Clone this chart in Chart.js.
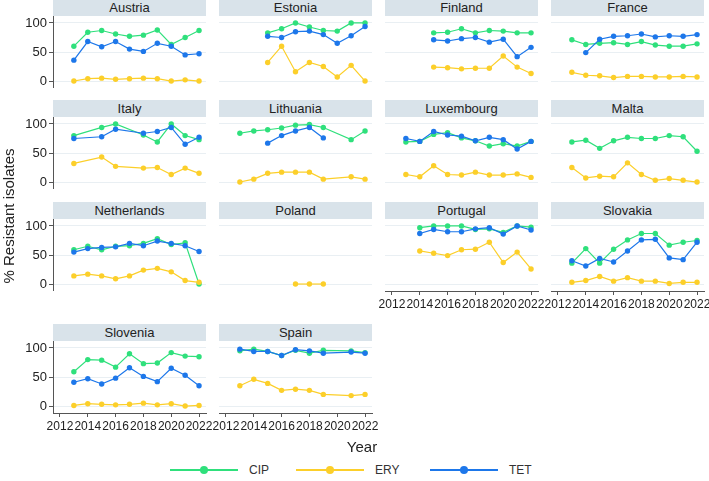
<!DOCTYPE html>
<html>
<head>
<meta charset="utf-8">
<script src="https://cdn.jsdelivr.net/npm/chart.js@4.4.0/dist/chart.umd.min.js"></script>
<style>
  html,body{margin:0;padding:0;background:#fff;}
  body{width:709px;height:481px;overflow:hidden;position:relative;font-family:"Liberation Sans",Arial,sans-serif;color:#222;}
  .strip{position:absolute;background:#d9e3ea;color:#222;font-size:13px;text-align:center;height:17px;line-height:17px;}
  canvas{position:absolute;}
  .ytitle{position:absolute;width:220px;height:18px;line-height:18px;font-size:15px;text-align:center;transform:rotate(-90deg);white-space:nowrap;color:#222;}
  .xtitle{position:absolute;width:100px;height:18px;line-height:18px;font-size:15px;text-align:center;color:#222;}
  .lg-line{position:absolute;height:2px;}
  .lg-dot{position:absolute;width:8px;height:8px;border-radius:50%;}
  .lg-text{position:absolute;font-size:12px;line-height:14px;color:#333;}
</style>
</head>
<body>
<script>
// ---------------- DATA ----------------
const years = [2013, 2014, 2015, 2016, 2017, 2018, 2019, 2020, 2021, 2022];
const xTickLabels = [2012, 2014, 2016, 2018, 2020, 2022];
const yTickValues = [0, 50, 100];
const countries = ['Austria','Estonia','Finland','France','Italy','Lithuania','Luxembourg','Malta','Netherlands','Poland','Portugal','Slovakia','Slovenia','Spain'];
const drugs = ['CIP', 'ERY', 'TET'];

const austriaCIP = [60, 84, 87, 81, 77, 79, 88, 63, 75, 87];
const austriaERY = [0, 4, 5, 3, 4, 5, 4, 0, 2, 0];
const austriaTET = [36, 68, 59, 68, 55, 51, 65, 60, 45, 47];

const estoniaCIP = [null, null, 83, 90, 100, 93, 87, 86, 100, 100];
const estoniaERY = [null, null, 32, 60, 16, 32, 25, 7, 27, 0];
const estoniaTET = [null, null, 77, 75, 85, 86, 80, 65, 78, 94];

const finlandCIP = [null, null, 83, 84, 90, 83, 87, 86, 83, 83];
const finlandERY = [null, null, 24, 23, 21, 22, 22, 43, 24, 13];
const finlandTET = [null, null, 71, 69, 73, 75, 67, 72, 42, 58];

const franceCIP = [71, 63, 65, 66, 63, 68, 62, 60, 60, 64];
const franceERY = [15, 10, 9, 6, 8, 8, 7, 7, 8, 7];
const franceTET = [null, 49, 72, 77, 78, 81, 76, 78, 77, 80];

const italyCIP = [80, null, 94, 100, null, 81, 69, 100, 80, 73];
const italyERY = [32, null, 43, 27, null, 24, 25, 13, 24, 15];
const italyTET = [75, null, 78, 91, null, 84, 87, 94, 65, 77];

const lithuaniaCIP = [84, 88, 90, 93, 98, 99, 94, null, 73, 88];
const lithuaniaERY = [0, 5, 15, 17, 17, 17, 5, null, 9, 5];
const lithuaniaTET = [null, null, 67, 80, 88, 94, 76, null, null, null];

const luxembourgCIP = [69, 70, 82, 85, 76, 71, 62, 66, 62, 70];
const luxembourgERY = [13, 9, 28, 13, 12, 17, 12, 12, 14, 8];
const luxembourgTET = [75, 70, 87, 81, 79, 71, 77, 73, 57, 70];

const maltaCIP = [69, 72, 58, 71, 77, 75, 75, 80, 78, 53];
const maltaERY = [25, 7, 10, 9, 33, 13, 3, 6, 3, 0];
const maltaTET = [null, null, null, null, null, null, null, null, null, null];

const netherlandsCIP = [59, 65, 59, 65, 66, 70, 78, 68, 71, 0];
const netherlandsERY = [14, 17, 14, 9, 14, 24, 27, 21, 6, 3];
const netherlandsTET = [55, 61, 63, 64, 70, 66, 74, 70, 66, 56];

const polandCIP = [null, null, null, null, null, null, null, null, null, null];
const polandERY = [null, null, null, null, 0, 0, 0, null, null, null];
const polandTET = [null, null, null, null, null, null, null, null, null, null];

const portugalCIP = [null, 97, 100, 100, 100, 94, 95, 89, 100, 98];
const portugalERY = [null, 57, 53, 49, 59, 60, 72, 37, 55, 26];
const portugalTET = [null, 87, 94, 90, 90, 95, 97, 86, 100, 93];

const slovakiaCIP = [36, 61, 36, 60, 76, 87, 87, 67, 72, 75];
const slovakiaERY = [3, 6, 13, 5, 11, 5, 5, 1, 3, 3];
const slovakiaTET = [40, 31, 44, 38, 57, 76, 77, 45, 42, 72];

const sloveniaCIP = [59, 80, 79, 67, 90, 73, 74, 92, 86, 85];
const sloveniaERY = [1, 4, 3, 2, 3, 5, 2, 4, 0, 1];
const sloveniaTET = [41, 47, 38, 48, 66, 51, 42, 65, 53, 35];

const spainCIP = [95, 98, 94, 87, 96, 91, 96, null, 95, 92];
const spainERY = [35, 46, 39, 27, 29, 27, 20, null, 18, 20];
const spainTET = [98, 94, 94, 87, 97, 95, 91, null, 93, 91];

// ---------------- STYLE / LAYOUT ----------------
const drugColors = { CIP: '#2fe07c', ERY: '#fccf2a', TET: '#1d77ea' };
const drugOrder = { CIP: 2, ERY: 1, TET: 0 };
const colLeft = [53, 219, 385, 551];
const rowTop = [16, 117, 219, 341];
const PW = 153, PH = 72, YAW = 53, XAH = 24, RPAD = 16;
const axisColor = '#555';
const gridColor = '#e9eff3';
const bottomPanels = ['Portugal', 'Slovakia', 'Slovenia', 'Spain'];

const seriesByCountry = {
  Austria: [austriaCIP, austriaERY, austriaTET],
  Estonia: [estoniaCIP, estoniaERY, estoniaTET],
  Finland: [finlandCIP, finlandERY, finlandTET],
  France: [franceCIP, franceERY, franceTET],
  Italy: [italyCIP, italyERY, italyTET],
  Lithuania: [lithuaniaCIP, lithuaniaERY, lithuaniaTET],
  Luxembourg: [luxembourgCIP, luxembourgERY, luxembourgTET],
  Malta: [maltaCIP, maltaERY, maltaTET],
  Netherlands: [netherlandsCIP, netherlandsERY, netherlandsTET],
  Poland: [polandCIP, polandERY, polandTET],
  Portugal: [portugalCIP, portugalERY, portugalTET],
  Slovakia: [slovakiaCIP, slovakiaERY, slovakiaTET],
  Slovenia: [sloveniaCIP, sloveniaERY, sloveniaTET],
  Spain: [spainCIP, spainERY, spainTET]
};

function toPoints(vals) {
  const pts = [];
  vals.forEach((v, i) => { if (v !== null) pts.push({ x: years[i], y: v }); });
  return pts;
}

countries.forEach((name, i) => {
  const r = Math.floor(i / 4), c = i % 4;
  const isLeft = c === 0;
  const isBottom = bottomPanels.includes(name);

  const strip = document.createElement('div');
  strip.className = 'strip';
  strip.style.left = colLeft[c] + 'px';
  strip.style.top = (rowTop[r] - 17) + 'px';
  strip.style.width = PW + 'px';
  strip.textContent = name;
  document.body.appendChild(strip);

  const cv = document.createElement('canvas');
  const w = YAW + PW + RPAD;
  const h = PH + (isBottom ? XAH : 0);
  cv.width = w; cv.height = h;
  cv.style.width = w + 'px'; cv.style.height = h + 'px';
  cv.style.left = (colLeft[c] - YAW) + 'px';
  cv.style.top = rowTop[r] + 'px';
  document.body.appendChild(cv);

  const datasets = drugs.map((d, k) => ({
    label: d,
    data: toPoints(seriesByCountry[name][k]),
    borderColor: drugColors[d],
    backgroundColor: drugColors[d],
    pointBackgroundColor: drugColors[d],
    pointBorderWidth: 0,
    pointRadius: 2.7,
    borderWidth: 1.2,
    tension: 0,
    order: drugOrder[d],
    clip: false
  }));

  new Chart(cv, {
    type: 'line',
    data: { datasets },
    options: {
      responsive: false,
      animation: false,
      devicePixelRatio: 1,
      layout: { autoPadding: false, padding: { left: 0, top: 0, right: RPAD, bottom: 0 } },
      plugins: { legend: { display: false }, tooltip: { enabled: false }, title: { display: false } },
      scales: {
        x: {
          type: 'linear',
          min: 2011.5,
          max: 2022.5,
          display: isBottom,
          afterBuildTicks: s => { s.ticks = xTickLabels.map(v => ({ value: v })); },
          afterFit: s => { s.height = isBottom ? XAH : 0; s.paddingLeft = 0; s.paddingRight = 0; s.paddingTop = 0; s.paddingBottom = 0; },
          grid: { drawOnChartArea: false, drawTicks: true, tickLength: 4, tickColor: axisColor, tickWidth: 1 },
          border: { display: true, color: axisColor, width: 1 },
          ticks: {
            autoSkip: false, maxRotation: 0, minRotation: 0, padding: 2,
            color: '#222', font: { family: 'Liberation Sans', size: 12 },
            callback: v => String(v)
          }
        },
        y: {
          type: 'linear',
          min: -12,
          max: 112,
          afterBuildTicks: s => { s.ticks = yTickValues.map(v => ({ value: v })); },
          afterFit: s => { s.width = YAW; s.paddingTop = 0; s.paddingBottom = 0; s.paddingLeft = 0; s.paddingRight = 0; },
          grid: { color: gridColor, lineWidth: 1, drawTicks: isLeft, tickLength: 4, tickColor: axisColor },
          border: { display: isLeft, color: axisColor, width: 1 },
          ticks: {
            display: isLeft, padding: 2,
            color: '#222', font: { family: 'Liberation Sans', size: 13 },
            callback: v => String(v)
          }
        }
      }
    }
  });
});

// Axis titles
const yt = document.createElement('div');
yt.className = 'ytitle';
yt.textContent = '% Resistant isolates';
yt.style.left = (9 - 110) + 'px';
yt.style.top = (216 - 9) + 'px';
document.body.appendChild(yt);

const xt = document.createElement('div');
xt.className = 'xtitle';
xt.textContent = 'Year';
xt.style.left = (362 - 50) + 'px';
xt.style.top = (447 - 9) + 'px';
document.body.appendChild(xt);

// Legend
const legendX = { CIP: 170, ERY: 296, TET: 430 };
const legendY = 470;
drugs.forEach(d => {
  const x0 = legendX[d];
  const ln = document.createElement('div');
  ln.className = 'lg-line';
  ln.style.left = x0 + 'px'; ln.style.width = '68px';
  ln.style.top = (legendY - 1) + 'px';
  ln.style.background = drugColors[d];
  document.body.appendChild(ln);
  const dot = document.createElement('div');
  dot.className = 'lg-dot';
  dot.style.left = (x0 + 34 - 4) + 'px';
  dot.style.top = (legendY - 4) + 'px';
  dot.style.background = drugColors[d];
  document.body.appendChild(dot);
  const tx = document.createElement('div');
  tx.className = 'lg-text';
  tx.style.left = (x0 + 79) + 'px';
  tx.style.top = (legendY - 7) + 'px';
  tx.textContent = d;
  document.body.appendChild(tx);
});
</script>
</body>
</html>
